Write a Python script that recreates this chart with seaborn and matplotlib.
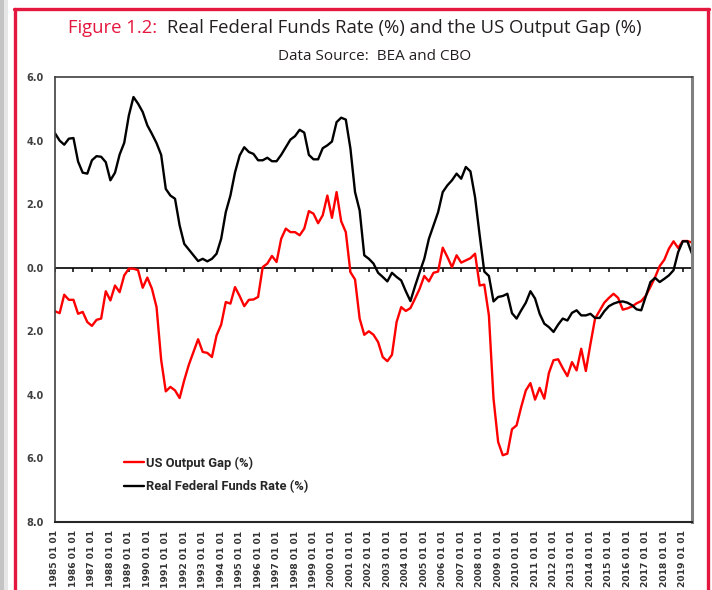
import numpy as np
import pandas as pd
import seaborn as sns
import matplotlib.pyplot as plt
from matplotlib import font_manager
from matplotlib.ticker import FuncFormatter
from matplotlib.patches import Rectangle
from matplotlib.lines import Line2D

# quarterly data, 1985 Q1 .. 2019 Q3
years = list(range(1985, 2020))

ffr = [4.23, 4.00, 3.87, 4.06, 4.08, 3.34, 2.99, 2.96, 3.38, 3.51, 3.49, 3.32,
       2.75, 2.99, 3.56, 3.93, 4.79, 5.37, 5.16, 4.90, 4.48, 4.21, 3.92, 3.55,
       2.48, 2.27, 2.17, 1.33, 0.75, 0.57, 0.39, 0.21, 0.28, 0.20, 0.28, 0.44,
       0.91, 1.75, 2.27, 3.00, 3.53, 3.79, 3.64, 3.58, 3.38, 3.38, 3.46, 3.35,
       3.35, 3.55, 3.79, 4.03, 4.14, 4.34, 4.25, 3.55, 3.41, 3.41, 3.76, 3.85,
       3.97, 4.58, 4.72, 4.66, 3.75, 2.38, 1.80, 0.39, 0.28, 0.13, -0.16, -0.29,
       -0.43, -0.16, -0.29, -0.40, -0.74, -1.05, -0.58, -0.14, 0.28, 0.91, 1.33, 1.75,
       2.38, 2.59, 2.75, 2.96, 2.80, 3.17, 3.03, 2.22, 1.02, -0.12, -0.26, -1.06,
       -0.92, -0.89, -0.82, -1.43, -1.60, -1.34, -1.10, -0.74, -0.97, -1.45, -1.76, -1.87,
       -2.02, -1.79, -1.60, -1.66, -1.42, -1.34, -1.50, -1.50, -1.45, -1.58, -1.58, -1.37,
       -1.21, -1.13, -1.08, -1.06, -1.10, -1.18, -1.31, -1.34, -0.89, -0.45, -0.32, -0.45,
       -0.35, -0.24, -0.08, 0.49, 0.83, 0.83, 0.44]

gap = [-1.37, -1.43, -0.85, -1.01, -1.01, -1.45, -1.39, -1.71, -1.83, -1.64, -1.60, -0.74,
       -1.03, -0.56, -0.77, -0.24, -0.03, -0.03, -0.08, -0.63, -0.31, -0.66, -1.24, -2.90,
       -3.89, -3.75, -3.86, -4.10, -3.54, -3.05, -2.65, -2.25, -2.65, -2.68, -2.81, -2.13,
       -1.79, -1.08, -1.13, -0.61, -0.89, -1.21, -1.01, -1.00, -0.92, 0.02, 0.13, 0.37,
       0.18, 0.91, 1.23, 1.12, 1.12, 1.02, 1.23, 1.78, 1.70, 1.40, 1.65, 2.27,
       1.57, 2.38, 1.46, 1.12, -0.14, -0.37, -1.60, -2.11, -2.00, -2.11, -2.34, -2.81,
       -2.94, -2.74, -1.71, -1.24, -1.36, -1.27, -0.97, -0.66, -0.26, -0.43, -0.16, -0.12,
       0.63, 0.34, 0.02, 0.39, 0.16, 0.23, 0.30, 0.44, -0.56, -0.53, -1.50, -4.12,
       -5.48, -5.90, -5.85, -5.08, -4.96, -4.38, -3.86, -3.63, -4.15, -3.78, -4.12, -3.31,
       -2.91, -2.88, -3.16, -3.41, -2.97, -3.23, -2.55, -3.25, -2.40, -1.60, -1.35, -1.10,
       -0.95, -0.82, -0.95, -1.32, -1.28, -1.22, -1.12, -1.05, -0.88, -0.60, -0.30, 0.05,
       0.25, 0.60, 0.83, 0.62, 0.84, 0.84, 0.79]

df = pd.DataFrame({"q": np.arange(len(ffr)), "ffr": ffr, "gap": gap})

sns.set_style("white")
available = {f.name for f in font_manager.fontManager.ttflist}
leg_family = "Roboto" if "Roboto" in available else "DejaVu Sans"
plt.rcParams["font.family"] = ["DejaVu Sans"]

RED = "#E4173E"
W, H = 712, 590
fig = plt.figure(figsize=(W / 100, H / 100), dpi=100)
ax = fig.add_axes([55 / W, 68 / H, 637 / W, 445 / H])

sns.lineplot(data=df, x="q", y="gap", ax=ax, color="#FF0000", lw=1.7, label="US Output Gap (%)")
sns.lineplot(data=df, x="q", y="ffr", ax=ax, color="black", lw=1.7, label="Real Federal Funds Rate (%)")

ax.set_xlim(0, len(ffr) - 1)
ax.set_ylim(-8, 6)
ax.set_xlabel("")
ax.set_ylabel("")

# zero line with yearly tick marks
ax.axhline(0, color="black", lw=1.2, zorder=1)
ticks = df["q"].values[::4]
ax.vlines(ticks, -0.14, 0, color="black", lw=1.1, zorder=1)

ax.set_yticks(np.arange(-8, 7, 2))
ax.yaxis.set_major_formatter(FuncFormatter(lambda v, p: f"{abs(v):.1f}"))
ax.tick_params(axis="y", length=0, pad=8, labelsize=7, labelcolor="#404040")
for t in ax.get_yticklabels():
    t.set_fontweight("bold")

ax.set_xticks(ticks)
ax.set_xticklabels([f"{y} 01 01" for y in years], rotation=90, fontsize=6.6,
                   fontweight="bold", color="#333333", va="top")
ax.tick_params(axis="x", length=0, pad=6)

for side, c, w in [("left", "#404040", 1.2), ("top", "#404040", 1.2),
                   ("right", "#808080", 2.2), ("bottom", "#262626", 1.5)]:
    ax.spines[side].set_color(c)
    ax.spines[side].set_linewidth(w)

leg = ax.legend(loc="upper left", bbox_to_anchor=(0.108, 0.147), frameon=False,
                prop={"family": leg_family, "weight": "bold", "size": 9.3},
                borderpad=0, borderaxespad=0, handlelength=1.6,
                handletextpad=0.15, labelspacing=0.78)
for t in leg.get_texts():
    t.set_color("#262626")

# title in two colours
tfont = "Open Sans"
t1 = fig.text(0, 1 - 33 / H, "Figure 1.2:", color=RED, fontsize=13.3, family=tfont, va="baseline")
t2 = fig.text(0, 1 - 33 / H, "Real Federal Funds Rate (%) and the US Output Gap (%)",
              color="#231f20", fontsize=13.3, family=tfont, va="baseline")
fig.text(375 / W, 1 - 60 / H, "Data Source:  BEA and CBO", color="#231f20",
         fontsize=11, family=tfont, ha="center", va="baseline")
fig.canvas.draw()
r = fig.canvas.get_renderer()
w1 = t1.get_window_extent(r).width
w2 = t2.get_window_extent(r).width
x0 = (W - (w1 + 10 + w2)) / 2 - 1
t1.set_x(x0 / W)
t2.set_x((x0 + w1 + 10) / W)

# red frame and grey edge
fig.add_artist(Rectangle((0, 0), 4 / W, 1, transform=fig.transFigure, color="#c4c4c4", lw=0))
fig.add_artist(Rectangle((4 / W, 0), 4 / W, 1, transform=fig.transFigure, color="#e6e6e6", lw=0))
fig.add_artist(Line2D([14.5 / W, 14.5 / W], [0, 1 - 9 / H], transform=fig.transFigure, color=RED, lw=2.4))
fig.add_artist(Line2D([708 / W, 708 / W], [0, 1 - 9 / H], transform=fig.transFigure, color=RED, lw=2.4))
fig.add_artist(Line2D([13.6 / W, 708.9 / W], [1 - 9 / H, 1 - 9 / H], transform=fig.transFigure, color=RED, lw=2.4))

fig.savefig("out.png", dpi=100)
